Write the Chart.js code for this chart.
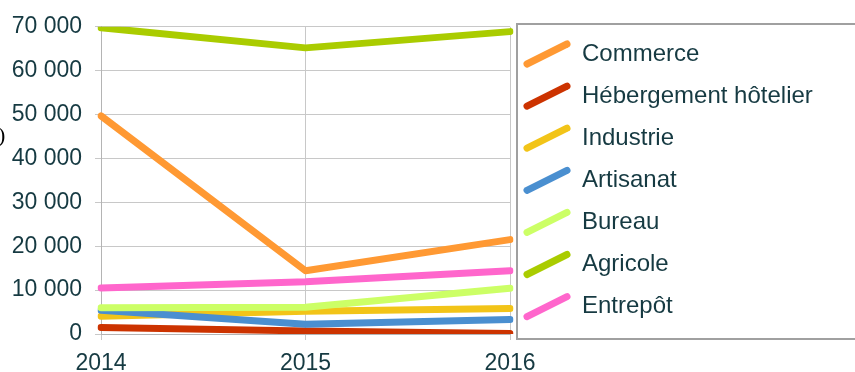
<!DOCTYPE html>
<html>
<head>
<meta charset="utf-8">
<script src="https://cdn.jsdelivr.net/npm/chart.js@4/dist/chart.umd.min.js"></script>
<style>
  html, body { margin: 0; padding: 0; background: #ffffff; }
  #wrap { position: relative; width: 855px; height: 372px; }
</style>
</head>
<body>
<div id="wrap"><canvas id="surfaces"></canvas></div>
<script>
// Years on the x axis
const years = ["2014", "2015", "2016"];

// Surfaces by destination
const commerce = [49700, 14400, 21500];
const hebergement = [1500, 700, 100];
const industrie = [4050, 5200, 5800];
const artisanat = [5400, 2200, 3300];
const bureau = [6000, 6100, 10400];
const agricole = [69800, 65200, 68900];
const entrepot = [10500, 11900, 14400];

const seriesLabels = ["Commerce", "Hébergement hôtelier", "Industrie", "Artisanat", "Bureau", "Agricole", "Entrepôt"];
const seriesValues = [commerce, hebergement, industrie, artisanat, bureau, agricole, entrepot];
const seriesColors = ["#ff9933", "#cc3300", "#f2c418", "#4a8fd0", "#ccff66", "#aacc00", "#ff66cc"];

const yTicks = [0, 10000, 20000, 30000, 40000, 50000, 60000, 70000];

const TEXT = "#163a42";
const FONT = "Liberation Sans, Arial, sans-serif";

function spaced(v) {
  return String(v).replace(/\B(?=(\d{3})+(?!\d))/g, " ");
}

// legend box with slanted line samples, drawn by hand
const sideLegend = {
  id: "sideLegend",
  afterDraw(chart) {
    const ctx = chart.ctx;
    ctx.save();
    ctx.strokeStyle = "#a0a0a0";
    ctx.lineWidth = 2;
    ctx.strokeRect(517, 24, 345, 315);

    ctx.font = "24px " + FONT;
    ctx.fillStyle = TEXT;
    ctx.textBaseline = "middle";
    ctx.textAlign = "left";
    seriesLabels.forEach((label, i) => {
      const cy = 54 + i * 42.1;
      ctx.strokeStyle = seriesColors[i];
      ctx.lineWidth = 7;
      ctx.lineCap = "round";
      ctx.beginPath();
      ctx.moveTo(527, cy + 10);
      ctx.lineTo(567, cy - 10);
      ctx.stroke();
      ctx.fillText(label, 582, cy);
    });

    // stray bracket left over at the page edge
    ctx.fillStyle = "#000000";
    ctx.font = "22px Liberation Serif, serif";
    ctx.fillText(")", -2, 136);
    ctx.restore();
  }
};

const n = seriesLabels.length;

new Chart(document.getElementById("surfaces"), {
  type: "line",
  data: {
    labels: years,
    datasets: seriesLabels.map((label, i) => ({
      label: label,
      data: seriesValues[i],
      borderColor: seriesColors[i],
      backgroundColor: seriesColors[i],
      borderWidth: 7,
      borderCapStyle: "round",
      borderJoinStyle: "round",
      pointRadius: 0,
      tension: 0,
      order: n - i,
    })),
  },
  options: {
    responsive: true,
    maintainAspectRatio: false,
    animation: false,
    layout: { padding: { top: 23, right: 345, left: 0, bottom: 0 } },
    plugins: {
      legend: { display: false },
      tooltip: { enabled: false },
    },
    scales: {
      x: {
        grid: { color: "#c8c8c8", lineWidth: 1, tickLength: 6 },
        border: { color: "#b4b4b4", width: 1 },
        ticks: { color: TEXT, font: { family: FONT, size: 23 }, padding: 10, maxRotation: 0 },
        afterFit(scale) { scale.height = 38; },
      },
      y: {
        min: 0,
        max: 70000,
        afterBuildTicks(scale) { scale.ticks = yTicks.map(v => ({ value: v })); },
        grid: { color: "#c8c8c8", lineWidth: 1, tickLength: 6 },
        border: { color: "#b4b4b4", width: 1 },
        ticks: { color: TEXT, font: { family: FONT, size: 23 }, padding: 13, callback: v => spaced(v) },
        afterFit(scale) { scale.width = 101; },
      },
    },
  },
  plugins: [sideLegend],
});
</script>
</body>
</html>
